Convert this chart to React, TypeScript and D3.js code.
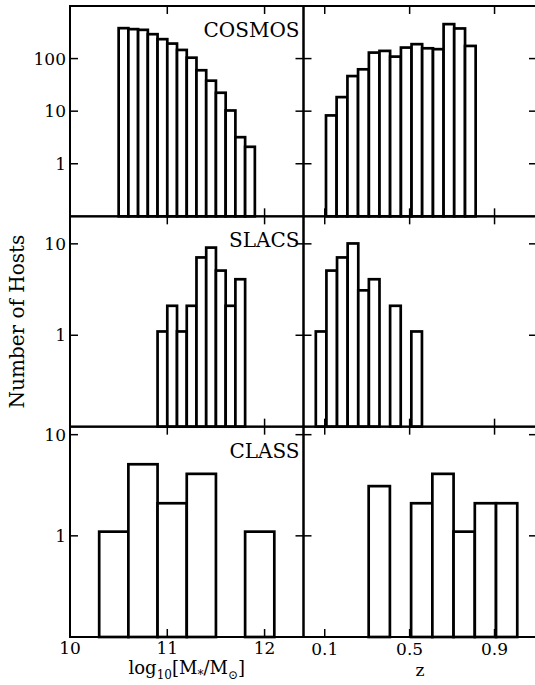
import React from "react";
import * as d3 from "d3";

// bin edges and plotted heights (counts + 0.1, log axis)
const cosmosMassEdges = [10.5, 10.6, 10.7, 10.8, 10.9, 11.0, 11.1, 11.2, 11.3, 11.4, 11.5, 11.6, 11.7, 11.8, 11.9];
const cosmosMassVals = [379, 363, 352, 291, 234, 193, 146, 104, 60, 38, 22.4, 10.3, 3.2, 2.1];
const cosmosZEdges = [0.106, 0.156, 0.207, 0.257, 0.308, 0.358, 0.408, 0.459, 0.509, 0.559, 0.61, 0.66, 0.71, 0.761, 0.811];
const cosmosZVals = [8.3, 18.5, 46.5, 62.5, 130, 140, 109, 162, 188, 157, 151, 452, 374, 174];

const slacsMassEdges = [10.9, 11.0, 11.1, 11.2, 11.3, 11.4, 11.5, 11.6, 11.7, 11.8];
const slacsMassVals = [1.1, 2.1, 1.1, 2.1, 7.1, 9.1, 5.1, 2.1, 4.1];
const slacsZEdges = [0.058, 0.108, 0.158, 0.208, 0.258, 0.308, 0.358, 0.408, 0.458, 0.508, 0.558];
const slacsZVals = [1.1, 5.1, 7.1, 10.1, 3.1, 4.1, 0.1, 2.1, 0.1, 1.1];

const classMassEdges = [10.3, 10.6, 10.9, 11.2, 11.5, 11.8, 12.1];
const classMassVals = [1.1, 5.1, 2.1, 4.1, 0.1, 1.1];
const classZEdges = [0.307, 0.407, 0.507, 0.607, 0.707, 0.807, 0.907, 1.007];
const classZVals = [3.1, 0.1, 2.1, 4.1, 1.1, 2.1, 2.1];

const massTicks = [10, 11, 12];
const zTicks = [0.1, 0.5, 0.9];

const rows = [
  { name: "COSMOS", yMax: 1000, yTicks: [1, 10, 100], mass: [cosmosMassEdges, cosmosMassVals], z: [cosmosZEdges, cosmosZVals] },
  { name: "SLACS", yMax: 20, yTicks: [1, 10], mass: [slacsMassEdges, slacsMassVals], z: [slacsZEdges, slacsZVals] },
  { name: "CLASS", yMax: 12, yTicks: [1, 10], mass: [classMassEdges, classMassVals], z: [classZEdges, classZVals] },
];

const W = 535, H = 685;
const top = 6, bottom = 637;
const rowH = (bottom - top) / 3;
const xMass = d3.scaleLinear().domain([10, 12.4]).range([70, 303.5]);
const xZ = d3.scaleLinear().domain([0, 1.1]).range([303.5, 537]);
const font = "DejaVu Serif, serif";
const tickLen = 8;

function Hist({ x, y, edges, vals }) {
  const base = y.range()[0];
  return (
    <g>
      {vals.map((v, i) => (
        <rect key={i} x={x(edges[i])} width={x(edges[i + 1]) - x(edges[i])}
          y={y(v)} height={base - y(v)}
          fill="#fff" stroke="#000" strokeWidth={2.7} />
      ))}
    </g>
  );
}

function Panel({ x, y, xTicks, yTicks, y0, y1, showYLabels, label, data }) {
  const [x0, x1] = x.range();
  return (
    <g>
      <Hist x={x} y={y} edges={data[0]} vals={data[1]} />
      {xTicks.map(t => (
        <g key={"x" + t}>
          <line x1={x(t)} x2={x(t)} y1={y1} y2={y1 - tickLen} stroke="#000" strokeWidth={1.5} />
          <line x1={x(t)} x2={x(t)} y1={y0} y2={y0 + tickLen} stroke="#000" strokeWidth={1.5} />
        </g>
      ))}
      {yTicks.map(t => (
        <g key={"y" + t}>
          <line x1={x0} x2={x0 + tickLen} y1={y(t)} y2={y(t)} stroke="#000" strokeWidth={1.5} />
          <line x1={x1} x2={x1 - tickLen} y1={y(t)} y2={y(t)} stroke="#000" strokeWidth={1.5} />
          {showYLabels && (
            <text x={x0 - 4} y={y(t)} dy="0.36em" textAnchor="end" fontFamily={font} fontSize={17}>{t}</text>
          )}
        </g>
      ))}
      <rect x={x0} y={y0} width={x1 - x0} height={y1 - y0} fill="none" stroke="#000" strokeWidth={2} />
      {label && (
        <text x={x1 - 4} y={y0 + 31} textAnchor="end" fontFamily={font} fontSize={20}>{label}</text>
      )}
    </g>
  );
}

export default function App() {
  return (
    <div style={{ position: "absolute", left: 0, top: 0 }}>
      <svg width={W} height={H} style={{ display: "block", background: "#fff" }}>
        {rows.map((r, i) => {
          const y0 = top + i * rowH, y1 = y0 + rowH;
          const y = d3.scaleLog().domain([0.1, r.yMax]).range([y1, y0]);
          return (
            <g key={r.name}>
              <Panel x={xZ} y={y} xTicks={zTicks} yTicks={r.yTicks} y0={y0} y1={y1} data={r.z} />
              <Panel x={xMass} y={y} xTicks={massTicks} yTicks={r.yTicks} y0={y0} y1={y1}
                showYLabels label={r.name} data={r.mass} />
            </g>
          );
        })}
        {massTicks.map(t => (
          <text key={t} x={xMass(t)} y={654} textAnchor="middle" fontFamily={font} fontSize={17}>{t}</text>
        ))}
        {zTicks.map(t => (
          <text key={t} x={xZ(t)} y={655} textAnchor="middle" fontFamily={font} fontSize={17}>{t}</text>
        ))}
        <text x={(xMass.range()[0] + xMass.range()[1]) / 2} y={674} textAnchor="middle" fontFamily={font} fontSize={18}>
          log<tspan fontSize={12} dy={5}>10</tspan><tspan dy={-5}>[M</tspan><tspan fontSize={12} dy={5}>*</tspan><tspan dy={-5}>/M</tspan><tspan fontSize={12} dy={5}>⊙</tspan><tspan dy={-5}>]</tspan>
        </text>
        <text x={420} y={676} textAnchor="middle" fontFamily={font} fontSize={17}>z</text>
        <text transform={`translate(24,${(top + bottom) / 2}) rotate(-90)`} textAnchor="middle" fontFamily={font} fontSize={20}>Number of Hosts</text>
      </svg>
    </div>
  );
}
